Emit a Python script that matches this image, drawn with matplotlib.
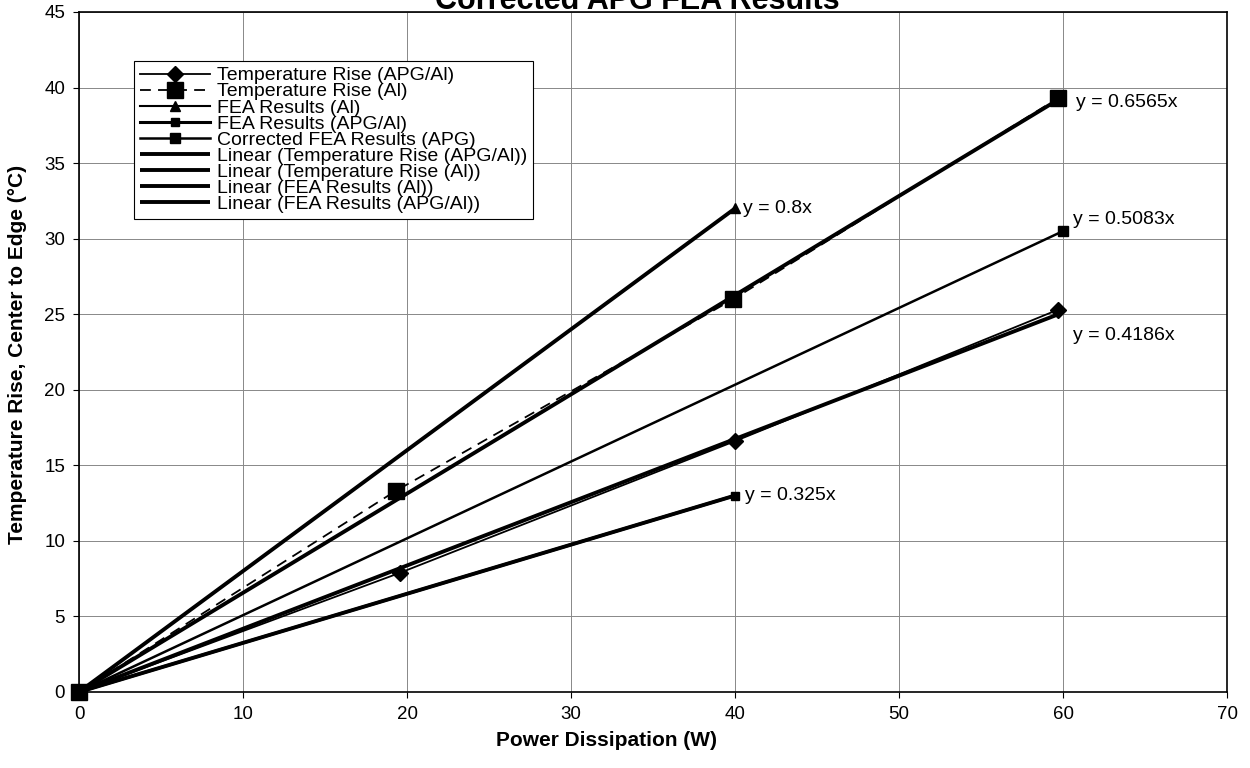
import numpy as np
import matplotlib
matplotlib.use('Agg')
import matplotlib.pyplot as plt

plt.rcParams['font.family'] = ['Liberation Sans', 'DejaVu Sans']

tr_apg_x = [0, 19.6, 40, 59.7]
tr_apg_y = [0, 7.9, 16.6, 25.3]
tr_al_x = [0, 19.3, 39.9, 59.7]
tr_al_y = [0, 13.3, 26.0, 39.3]
fea_al_x = [0, 40]
fea_al_y = [0, 32]
fea_apg_x = [0, 40]
fea_apg_y = [0, 13]
corr_x = [0, 60]
corr_y = [0, 30.5]

# trendline slopes (through origin) from the labels
slope_tr_apg = 0.4186
slope_tr_al = 0.6565
slope_fea_al = 0.8
slope_fea_apg = 0.325
slope_corr = 0.5083

fig = plt.figure(figsize=(12.5, 7.68), dpi=100)
ax = fig.add_axes([79/1250, 76/768, (1227-79)/1250, (692-12)/768])

k = dict(clip_on=False, color='black')
ax.plot(tr_apg_x, tr_apg_y, marker='D', ms=8, lw=1.3, label='Temperature Rise (APG/Al)', **k)
ax.plot(tr_al_x, tr_al_y, marker='s', ms=11, lw=1.3, ls=(0, (6, 4)), label='Temperature Rise (Al)', **k)
ax.plot(fea_al_x, fea_al_y, marker='^', ms=7, lw=1.5, label='FEA Results (Al)', **k)
ax.plot(fea_apg_x, fea_apg_y, marker='s', ms=6, lw=2.2, label='FEA Results (APG/Al)', **k)
ax.plot(corr_x, corr_y, marker='s', ms=7, lw=1.8, label='Corrected FEA Results (APG)', **k)

def trend(xs, m, name):
    xx = np.array([0, max(xs)])
    ax.plot(xx, m * xx, lw=2.8, solid_capstyle='butt', label=name, **k)

trend(tr_apg_x, slope_tr_apg, 'Linear (Temperature Rise (APG/Al))')
trend(tr_al_x, slope_tr_al, 'Linear (Temperature Rise (Al))')
trend(fea_al_x, slope_fea_al, 'Linear (FEA Results (Al))')
trend(fea_apg_x, slope_fea_apg, 'Linear (FEA Results (APG/Al))')

fs = 14
ax.text(60.8, 39.0, 'y = 0.6565x', fontsize=fs, va='center')
ax.text(40.5, 32.0, 'y = 0.8x', fontsize=fs, va='center')
ax.text(60.6, 31.3, 'y = 0.5083x', fontsize=fs, va='center')
ax.text(60.6, 23.6, 'y = 0.4186x', fontsize=fs, va='center')
ax.text(40.6, 13.0, 'y = 0.325x', fontsize=fs, va='center')

ax.set_xlim(0, 70)
ax.set_ylim(0, 45)
ax.set_xticks(range(0, 71, 10))
ax.set_yticks(range(0, 46, 5))
ax.tick_params(labelsize=13.5, direction='out', length=4, pad=6)
ax.grid(True, color='#888888', lw=0.7)
ax.set_axisbelow(True)
for s in ax.spines.values():
    s.set_linewidth(1.2)

leg = ax.legend(loc='upper left', bbox_to_anchor=((134-79)/1148, 1 - (61-12)/680),
                borderaxespad=0, fontsize=fs, frameon=True, fancybox=False,
                edgecolor='black', framealpha=1, handlelength=3.6,
                labelspacing=-0.08, borderpad=0.3, handletextpad=0.35)
leg.get_frame().set_linewidth(0.8)

fig.text(0.51, 1 - 9/768, 'Corrected APG FEA Results', fontsize=22, fontweight='bold',
         ha='center', va='baseline')
fig.text(607/1250, 28/768, 'Power Dissipation (W)', fontsize=15, fontweight='bold',
         ha='center', va='center')
fig.text(18/1250, (768-354)/768, 'Temperature Rise, Center to Edge (°C)', fontsize=15,
         fontweight='bold', rotation=90, ha='center', va='center')

fig.savefig('out.png', dpi=100)
